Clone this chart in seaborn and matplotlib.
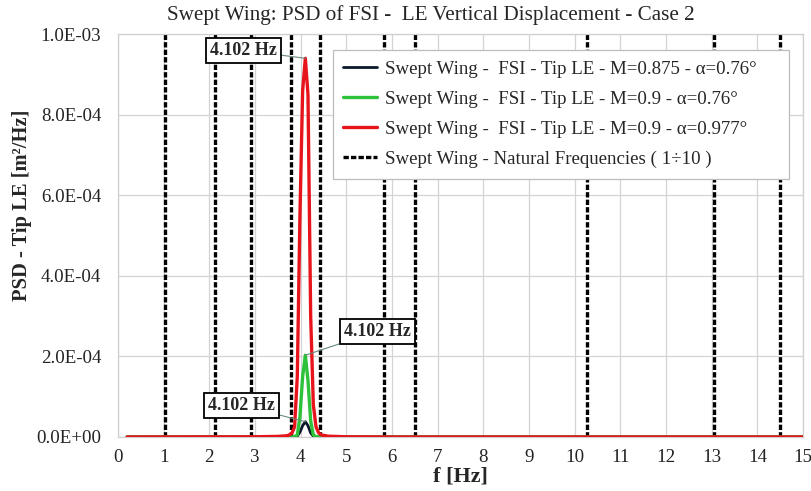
import matplotlib
matplotlib.use("Agg")
import matplotlib.pyplot as plt
from matplotlib.ticker import FuncFormatter, MultipleLocator
import seaborn as sns

# Frequency axis of the PSD spectra [Hz]
freq = [0.2, 3.0, 3.5, 3.691, 3.750, 3.809, 3.867, 3.926, 3.984, 4.043, 4.102,
        4.160, 4.219, 4.277, 4.336, 4.395, 4.453, 4.6, 5.0, 6.0, 15.0]

# PSD of tip LE vertical displacement [m^2/Hz]
psd_m0875_a076 = [0.0, 0.0, 0.0, 0.0, 0.0, 0.0, 0.0, 2.0e-6, 1.2e-5, 2.8e-5, 3.8e-5,
                  2.8e-5, 1.0e-5, 2.0e-6, 0.0, 0.0, 0.0, 0.0, 0.0, 0.0, 0.0]
psd_m09_a076 = [0.0, 0.0, 0.0, 0.0, 0.0, 0.0, 1.0e-6, 5.0e-6, 5.0e-5, 1.5e-4, 2.03e-4,
                1.4e-4, 4.0e-5, 5.0e-6, 1.0e-6, 0.0, 0.0, 0.0, 0.0, 0.0, 0.0]
psd_m09_a0977 = [0.0, 5.0e-7, 1.5e-6, 3.0e-6, 5.0e-6, 1.0e-5, 2.5e-5, 1.5e-4, 5.5e-4, 8.6e-4, 9.4e-4,
                 8.5e-4, 3.0e-4, 8.0e-5, 2.5e-5, 1.0e-5, 5.0e-6, 2.0e-6, 5.0e-7, 0.0, 0.0]

# First ten natural frequencies of the swept wing [Hz]
natural_freqs = [1.04, 2.13, 2.92, 3.78, 4.42, 5.82, 6.51, 10.28, 13.04, 14.50]

peak_freq = 4.102

series_labels = [
    "Swept Wing -  FSI - Tip LE - M=0.875 - \u03b1=0.76\u00b0",
    "Swept Wing -  FSI - Tip LE - M=0.9 - \u03b1=0.76\u00b0",
    "Swept Wing -  FSI - Tip LE - M=0.9 - \u03b1=0.977\u00b0",
]
modes_label = "Swept Wing - Natural Frequencies ( 1\u00f710 )"
series_colors = ["#0a1a2a", "#2ec13a", "#e8141c"]

sns.set_theme(style="whitegrid")
plt.rcParams["font.family"] = ["Liberation Serif", "DejaVu Serif"]

fig = plt.figure(figsize=(8.12, 4.91), dpi=100)
ax = fig.add_axes([0.1453, 0.110, 0.8437, 0.8205])

# natural frequencies as dashed verticals
for i, fn in enumerate(natural_freqs):
    ax.axvline(fn, color="black", lw=2.4, linestyle=(0, (1.6, 0.65)),
               label=modes_label if i == 0 else None, zorder=2)

for ys, lab, col, lw in zip([psd_m0875_a076, psd_m09_a076, psd_m09_a0977],
                            series_labels, series_colors, [2.0, 2.4, 2.4]):
    sns.lineplot(x=freq, y=ys, color=col, lw=lw, label=lab, ax=ax, zorder=3)

ax.set_xlim(0, 15)
ax.set_ylim(0, 1.0e-3)
ax.xaxis.set_major_locator(MultipleLocator(1))
ax.yaxis.set_major_locator(MultipleLocator(2.0e-4))
ax.yaxis.set_major_formatter(FuncFormatter(lambda v, p: f"{v:.1E}"))
ax.grid(True, color="#d4d4d4", lw=0.9)
for s in ax.spines.values():
    s.set_color("#cfcfcf")
    s.set_linewidth(0.9)
ax.tick_params(axis="both", labelsize=13.6, colors="#222222", length=0)
ax.tick_params(axis="y", pad=12)
ax.tick_params(axis="x", pad=9)

ax.set_title("Swept Wing: PSD of FSI -  LE Vertical Displacement - Case 2",
             fontsize=15.2, pad=10, x=0.457)
ax.set_xlabel("f [Hz]", fontsize=16, fontweight="bold", labelpad=0)
ax.set_ylabel("PSD - Tip LE [m\u00b2/Hz]", fontsize=14.8, fontweight="bold")
ax.yaxis.set_label_coords(-0.125, 0.576)

# legend: solid series first, then natural frequencies
handles, labels = ax.get_legend_handles_labels()
order = [labels.index(l) for l in series_labels + [modes_label]]
leg = ax.legend([handles[i] for i in order], [labels[i] for i in order],
                loc="upper left", bbox_to_anchor=(0.314, 0.0, 0.666, 0.960),
                mode="expand", borderaxespad=0,
                fontsize=13.6, frameon=True, fancybox=False, framealpha=1,
                edgecolor="#bdbdbd", borderpad=0.55, labelspacing=0.68,
                handlelength=1.75, handletextpad=0.45)
leg.get_frame().set_linewidth(0.9)

# peak annotations
peaks = [max(psd_m09_a0977), max(psd_m09_a076), max(psd_m0875_a076)]
text_pos = [(2.74, 9.6e-4), (5.69, 2.63e-4), (2.70, 0.79e-4)]
for pk, tp in zip(peaks, text_pos):
    ax.annotate(f"{peak_freq:.3f} Hz", xy=(peak_freq, pk), xytext=tp,
                ha="center", va="center", fontsize=13, fontweight="bold",
                bbox=dict(boxstyle="square,pad=0.22", fc="white", ec="black", lw=1.3),
                arrowprops=dict(arrowstyle="-", color="#6a8a7a", lw=0.8,
                                shrinkA=0, shrinkB=0),
                zorder=5)

fig.savefig("out.png", dpi=100, facecolor="white")
